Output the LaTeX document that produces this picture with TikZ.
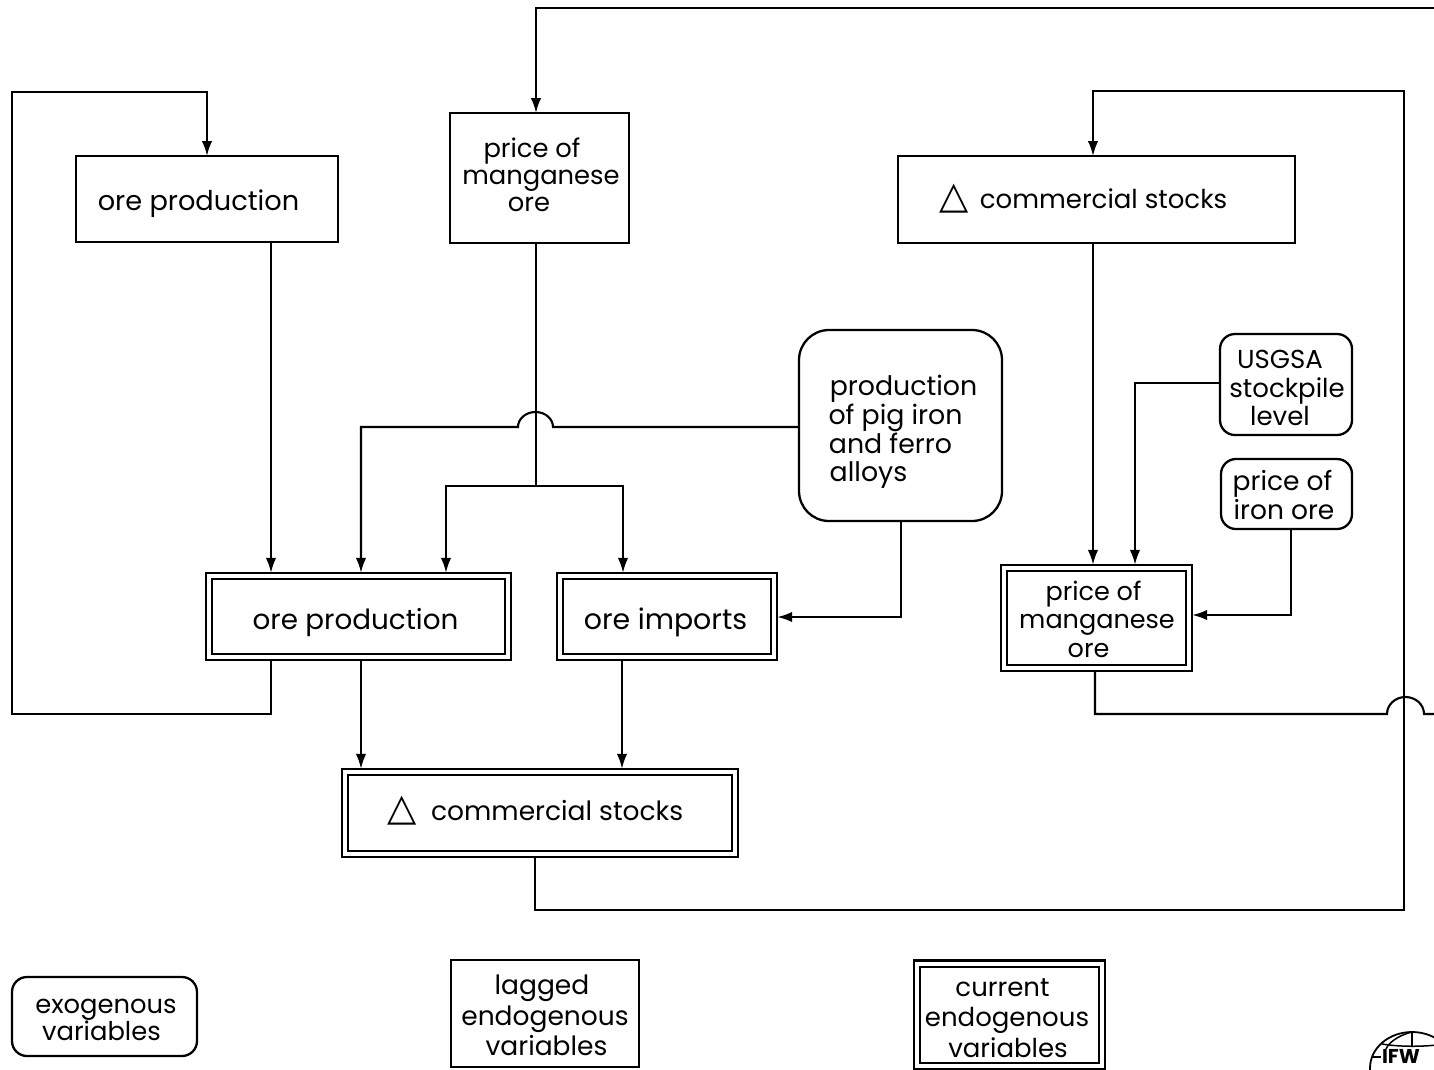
\documentclass[tikz,border=0pt]{standalone}
\usepackage{fontspec}
\setmainfont{Poppins}
\newfontfamily\symfont{DejaVu Sans}
\usetikzlibrary{arrows.meta,calc}
\newcommand{\dtri}{{\symfont\fontsize{38}{38}\selectfont △}}
\newcommand{\tl}[2]{\ifdim#1pt>0pt\hspace*{\dimexpr#1pt*2\relax}#2\else#2\hspace*{\dimexpr#1pt*-2\relax}\fi}
% size, line spacing, vertical shift downward, lines
\newcommand{\tx}[4]{\fontsize{#1}{#2}\selectfont\raisebox{0pt}[\dimexpr\height+#3pt*2\relax][\depth]{\begin{tabular}{@{}c@{}}#4\end{tabular}}}
\tikzset{
  every node/.style={inner sep=0pt, outer sep=0pt, text=black},
  lagbox/.style={draw, line width=2.3pt, rectangle},
  exobox/.style={draw, line width=2.3pt, rectangle, rounded corners=#1},
  curbox/.style={draw, line width=2.2pt, double, double distance=4.2pt, rectangle, outer sep=3.2pt},
  conn/.style={line width=2.1pt},
  arr/.style={conn, -{Latex[length=15pt,width=10.5pt]}},
}
\newcommand{\bx}[7]{% name, style, x1,y1,x2,y2, text
  \node[#2, minimum width=#5pt-#3pt, minimum height=#6pt-#4pt] (#1) at ({(#3+#5)/2},{(#4+#6)/2}) {#7};}
\begin{document}
\begin{tikzpicture}[x=1pt,y=-1pt]
\useasboundingbox (0,0) rectangle (1434,1069);
\clip (0,0) rectangle (1434,1069);
% boxes
\bx{lp}{lagbox}{76}{156}{338}{242}{\tx{27.2}{28}{5}{\tl{-8.5}{ore production}}}
\bx{lm}{lagbox}{450}{113}{629}{243}{\tx{25.8}{27}{1}{\tl{-7.5}{price of}\\\tl{1.5}{manganese}\\\tl{-10.5}{ore}}}
\bx{lc}{lagbox}{898}{156}{1295}{243}{\tx{26}{28}{1}{\tl{-13}{\dtri\hspace{4pt} commercial stocks}}}
\bx{xp}{exobox=30pt}{799}{330}{1002}{521}{\tx{26.8}{28}{7}{\tl{3}{production}\\\tl{-5}{of pig iron}\\\tl{-10}{and ferro}\\\tl{-32}{alloys}}}
\bx{xu}{exobox=15pt}{1220}{334}{1352}{435}{\tx{26}{28.5}{7}{\tl{-6}{USGSA}\\\tl{1}{stockpile}\\\tl{-6}{level}}}
\bx{xi}{exobox=15pt}{1221}{459}{1352}{529}{\tx{26.5}{29}{5}{\tl{-4}{price of}\\\tl{-2.5}{iron ore}}}
\bx{cp}{curbox}{209}{576}{508}{657}{\tx{27.8}{28}{6.5}{\tl{-3}{ore production}}}
\bx{ci}{curbox}{560}{576}{774}{657}{\tx{28.4}{28}{6}{\tl{-1.5}{ore imports}}}
\bx{cm}{curbox}{1004}{568}{1189}{668}{\tx{25.5}{28.5}{5}{\tl{-3}{price of}\\\tl{0.5}{manganese}\\\tl{-8}{ore}}}
\bx{cc}{curbox}{345}{772}{735}{854}{\tx{26.5}{28}{-0.5}{\tl{-4.5}{\dtri\hspace{7pt} commercial stocks}}}
\bx{kx}{exobox=15pt}{12}{977}{197}{1056}{\tx{25.8}{27}{5}{\tl{1.5}{exogenous}\\\tl{-3}{variables}}}
\bx{kl}{lagbox}{451}{960}{639}{1067}{\tx{26.5}{30.5}{5.5}{\tl{-3}{lagged}\\endogenous\\\tl{1.5}{variables}}}
\bx{kc}{curbox}{917}{964}{1102}{1066}{\tx{26}{30.5}{5.5}{\tl{-7}{current}\\\tl{-2.5}{endogenous}\\\tl{-1.5}{variables}}}
% bend points
\coordinate (a1) at (271,714); \coordinate (a2) at (12,714); \coordinate (a3) at (12,92); \coordinate (a4) at (207,92);
\coordinate (b1) at (535,910); \coordinate (b2) at (1404,910); \coordinate (b3) at (1404,91); \coordinate (b4) at (1093,91);
\coordinate (c1) at (1095,714); \coordinate (c2) at (1387,714); \coordinate (c4) at (1434,714);
\coordinate (d1) at (1434,8); \coordinate (d2) at (536,8);
\coordinate (e0) at (536,486); \coordinate (e1) at (446,486); \coordinate (e2) at (623,486);
\coordinate (f1) at (553,427); \coordinate (f3) at (361,427);
\coordinate (g1) at (901,617);
\coordinate (h1) at (1135,383);
\coordinate (i1) at (1291,615);
\coordinate (j1) at (622,700);
% connectors
\draw[arr] (a1 |- cp.south) -- (a1) -- (a2) -- (a3) -- (a4) -- (a4 |- lp.north);
\draw[arr] (a1 |- lp.south) -- (a1 |- cp.north);
\draw[arr] (b1 |- cc.south) -- (b1) -- (b2) -- (b3) -- (b4) -- (b4 |- lc.north);
\draw[conn] (c1 |- cm.south) -- (c1) -- (c2) arc[start angle=180,end angle=360,x radius=18.5,y radius=17] -- (c4);
\draw[arr] (d1) -- (d2) -- (d2 |- lm.north);
\draw[conn] (d2 |- lm.south) -- (e0);
\draw[arr] (e0) -- (e1) -- (e1 |- cp.north);
\draw[arr] (e0) -- (e2) -- (e2 |- ci.north);
\draw[arr] (f1 -| xp.west) -- (f1) arc[start angle=0,end angle=-180,x radius=17.5,y radius=15] -- (f3) -- (f3 |- cp.north);
\draw[arr] (g1 |- xp.south) -- (g1) -- (g1 -| ci.east);
\draw[arr] (b4 |- lc.south) -- (b4 |- cm.north);
\draw[arr] (h1 -| xu.west) -- (h1) -- (h1 |- cm.north);
\draw[arr] (i1 |- xi.south) -- (i1) -- (i1 -| cm.east);
\draw[arr] (f3 |- cp.south) -- (f3 |- cc.north);
\draw[arr] (j1 |- ci.south) -- (j1 |- cc.north);
% logo
\draw[line width=1.8pt] (1412,1068) ellipse[x radius=42,y radius=36];
\draw[line width=1.5pt] (1412,1032) -- (1412,1047) (1372,1057) -- (1381,1057);
\draw[line width=1.5pt] (1412,1032) .. controls (1396,1036) and (1388,1044) .. (1386,1049);
\draw[line width=1.5pt] (1382,1044) .. controls (1400,1047) and (1425,1047) .. (1444,1044);
\node[font=\bfseries\fontsize{20}{20}\selectfont, anchor=base west] (logo) at (1382,1063) {IFW};
\end{tikzpicture}
\end{document}
